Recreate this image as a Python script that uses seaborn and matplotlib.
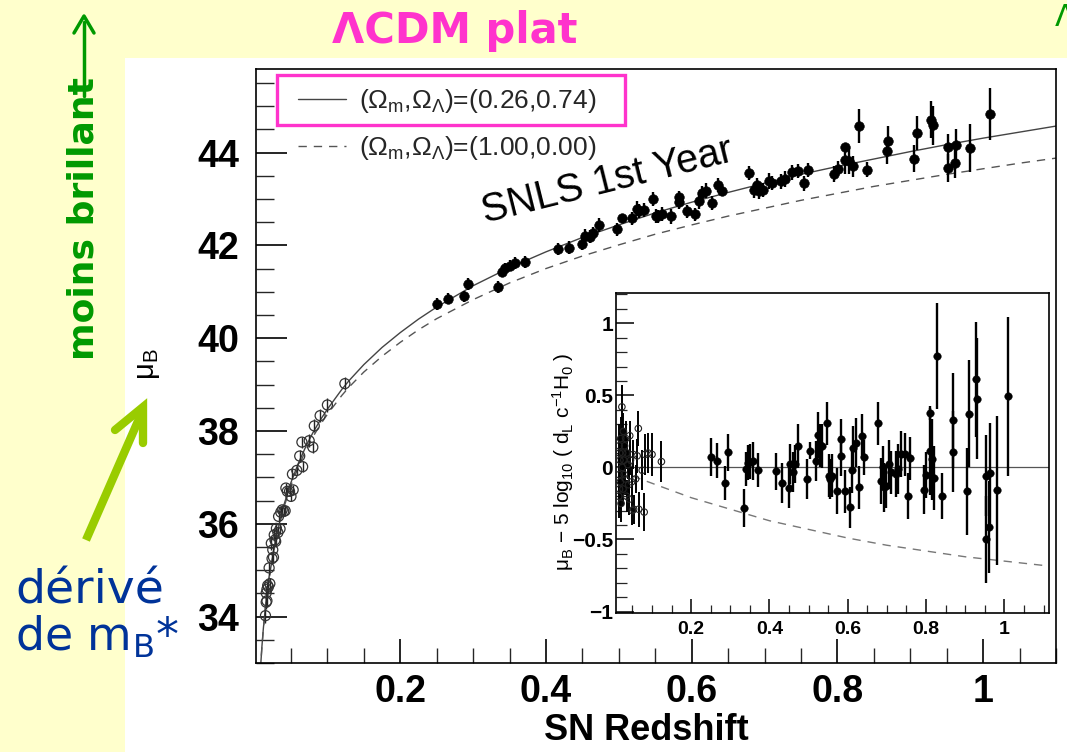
import matplotlib
matplotlib.use("Agg")
import matplotlib.pyplot as plt
import seaborn as sns
from matplotlib.patches import Rectangle
from matplotlib.ticker import MultipleLocator

# ---------------- data ----------------
# model curves (distance modulus)
curve_z = [0.008, 0.01, 0.012, 0.015, 0.02, 0.03, 0.04, 0.05, 0.06, 0.07, 0.08, 0.09,
           0.1, 0.12, 0.13, 0.15, 0.175, 0.2, 0.225, 0.25, 0.3, 0.35, 0.4, 0.45, 0.5,
           0.55, 0.6, 0.65, 0.7, 0.75, 0.8, 0.85, 0.9, 0.95, 1.0, 1.05, 1.1]
mu_lcdm = [32.84, 33.33, 33.73, 34.22, 34.85, 35.75, 36.39, 36.89, 37.30, 37.65, 37.96,
           38.23, 38.47, 38.90, 39.09, 39.43, 39.80, 40.12, 40.41, 40.67, 41.13, 41.52,
           41.86, 42.17, 42.44, 42.70, 42.93, 43.14, 43.34, 43.53, 43.70, 43.86, 44.02,
           44.17, 44.31, 44.44, 44.57]
mu_eds = [32.83, 33.32, 33.71, 34.20, 34.83, 35.71, 36.34, 36.83, 37.23, 37.57, 37.87,
          38.13, 38.36, 38.77, 38.95, 39.27, 39.61, 39.91, 40.18, 40.42, 40.83, 41.19,
          41.50, 41.77, 42.01, 42.24, 42.44, 42.63, 42.80, 42.97, 43.12, 43.27, 43.40,
          43.53, 43.65, 43.77, 43.88]

# residual of the (1,0) model in the inset
resid_z = [0.05, 0.07, 0.1, 0.15, 0.2, 0.25, 0.3, 0.4, 0.5, 0.6, 0.7, 0.8, 0.9, 1.0, 1.1]
resid_eds = [-0.06, -0.08, -0.11, -0.16, -0.21, -0.25, -0.29, -0.37, -0.43, -0.49,
             -0.54, -0.58, -0.62, -0.65, -0.68]

# nearby supernovae (open circles)
near_z = [0.015, 0.016, 0.016, 0.017, 0.017, 0.018, 0.019, 0.020, 0.021, 0.023, 0.024,
          0.025, 0.026, 0.027, 0.028, 0.029, 0.030, 0.032, 0.033, 0.035, 0.036, 0.038,
          0.040, 0.042, 0.043, 0.045, 0.048, 0.050, 0.052, 0.053, 0.058, 0.062, 0.065,
          0.066, 0.075, 0.080, 0.082, 0.090, 0.100, 0.124]
near_mu = [34.02, 34.51, 34.31, 34.59, 34.34, 34.67, 34.64, 35.05, 34.71, 35.58, 35.25,
           35.44, 35.28, 35.76, 35.65, 35.62, 35.90, 35.81, 36.16, 35.89, 36.25, 36.30,
           36.27, 36.28, 36.77, 36.70, 36.70, 36.59, 37.07, 36.73, 37.15, 37.46, 37.76,
           37.23, 37.79, 37.65, 38.11, 38.33, 38.56, 39.02]
near_res = [-0.20, 0.15, -0.05, 0.10, -0.15, 0.05, -0.10, 0.20, -0.25, 0.42, 0.00,
            0.10, -0.15, 0.25, 0.05, -0.05, 0.15, -0.08, 0.20, -0.20, 0.10, 0.02,
            -0.12, -0.22, 0.22, 0.05, -0.10, -0.30, 0.09, -0.29, -0.08, 0.08, 0.27,
            -0.29, -0.02, -0.31, 0.09, 0.10, 0.09, 0.04]
near_err = [0.15, 0.15, 0.14, 0.15, 0.14, 0.13, 0.14, 0.15, 0.13, 0.15, 0.12, 0.12,
            0.12, 0.13, 0.12, 0.11, 0.12, 0.11, 0.12, 0.11, 0.11, 0.10, 0.10, 0.11,
            0.10, 0.10, 0.10, 0.10, 0.10, 0.10, 0.10, 0.12, 0.12, 0.12, 0.14, 0.13,
            0.14, 0.14, 0.15, 0.14]

# SNLS first-year supernovae (filled circles)
snls_z = [0.250, 0.265, 0.287, 0.293, 0.334, 0.340, 0.344, 0.351, 0.358, 0.371,
          0.416, 0.432, 0.450, 0.453, 0.461, 0.465, 0.473, 0.497,
          0.504, 0.518, 0.525, 0.528, 0.534, 0.547, 0.551, 0.554, 0.559, 0.572, 0.582,
          0.583, 0.593,
          0.605, 0.610, 0.614, 0.620, 0.628, 0.636, 0.642,
          0.678, 0.685, 0.689, 0.693, 0.698, 0.706, 0.710, 0.722, 0.728, 0.737, 0.746,
          0.754, 0.759,
          0.795, 0.801, 0.810, 0.810, 0.816, 0.821, 0.829, 0.840,
          0.868, 0.870,
          0.905, 0.909, 0.928, 0.931,
          0.952, 0.952, 0.961, 0.963, 0.982, 1.010]
snls_mu = [40.74, 40.85, 40.90, 41.17, 41.11, 41.43, 41.51, 41.56, 41.62, 41.64,
           41.93, 41.95, 42.03, 42.21, 42.19, 42.27, 42.44, 42.35,
           42.58, 42.58, 42.79, 42.74, 42.76, 42.99, 42.64, 42.63, 42.68, 42.63, 43.04,
           42.93, 42.73,
           42.67, 42.95, 43.12, 43.18, 42.91, 43.30, 43.18,
           43.56, 43.19, 43.30, 43.17, 43.20, 43.38, 43.34, 43.38, 43.43, 43.57, 43.60,
           43.34, 43.62,
           43.53, 43.65, 44.11, 43.84, 43.81, 43.70, 44.57, 43.63,
           44.03, 44.25,
           43.87, 44.42, 44.71, 44.59,
           44.12, 43.67, 43.78, 44.16, 44.10, 44.83]
snls_res = [0.073, 0.046, -0.108, 0.105, -0.280, -0.010, 0.034, 0.039, 0.046, -0.018,
            -0.028, -0.110, -0.140, 0.023, -0.034, 0.023, 0.149, -0.080,
            0.117, 0.046, 0.225, 0.154, 0.149, 0.305, -0.057, -0.080, -0.057, -0.165,
            0.195, 0.080, -0.165,
            -0.278, -0.016, 0.138, 0.172, -0.138, 0.218, 0.069,
            0.305, -0.092, 0.000, -0.138, -0.131, 0.023, -0.034, -0.046, -0.011, 0.092,
            0.092, -0.200, 0.064,
            -0.156, -0.053, 0.378, 0.112, 0.057, -0.073, 0.773, -0.200,
            0.108, 0.328,
            -0.167, 0.372, 0.612, 0.477,
            -0.057, -0.500, -0.413, -0.041, -0.160, 0.493]
snls_err = [0.13, 0.12, 0.12, 0.13, 0.13, 0.12, 0.12, 0.12, 0.13, 0.12,
            0.13, 0.14, 0.14, 0.14, 0.14, 0.13, 0.15, 0.14,
            0.06, 0.14, 0.16, 0.15, 0.15, 0.15, 0.15, 0.14, 0.15, 0.16, 0.14, 0.14, 0.15,
            0.14, 0.16, 0.15, 0.17, 0.15, 0.15, 0.12,
            0.15, 0.16, 0.15, 0.17, 0.15, 0.17, 0.15, 0.16, 0.17, 0.16, 0.15, 0.16, 0.15,
            0.17, 0.16, 0.05, 0.30, 0.28, 0.22, 0.37, 0.16,
            0.28, 0.33,
            0.30, 0.37, 0.40, 0.42,
            0.28, 0.30, 0.32, 0.35, 0.52, 0.55]

main_xticks = [0.2, 0.4, 0.6, 0.8, 1.0]
main_xlabels = ["0.2", "0.4", "0.6", "0.8", "1"]
main_yticks = [34, 36, 38, 40, 42, 44]
main_ylabels = ["34", "36", "38", "40", "42", "44"]
inset_yticks = [-1, -0.5, 0, 0.5, 1]
inset_ylabels = ["\u22121", "\u22120.5", "0", "0.5", "1"]

legend_labels = [r"($\Omega_{\rm m}$,$\Omega_{\Lambda}$)=(0.26,0.74)",
                 r"($\Omega_{\rm m}$,$\Omega_{\Lambda}$)=(1.00,0.00)"]

# ---------------- styling ----------------
sns.set_theme(style="ticks")
plt.rcParams["font.family"] = ["Liberation Sans", "DejaVu Sans"]
plt.rcParams["mathtext.fontset"] = "custom"
plt.rcParams["mathtext.rm"] = "Liberation Sans"
plt.rcParams["mathtext.it"] = "Liberation Sans:italic"
plt.rcParams["mathtext.bf"] = "Liberation Sans:bold"

YELLOW = "#FFFFCC"
PINK = "#FF33CC"
GREEN = "#009900"
BLUE = "#003399"
LIME = "#99CC00"

W, H = 1067, 752


def fx(x):
    return x / W


def fy(y):
    return 1 - y / H


fig = plt.figure(figsize=(W / 100, H / 100), dpi=100)
fig.patch.set_facecolor(YELLOW)
fig.add_artist(Rectangle((fx(125), 0), 1 - fx(125), fy(58), transform=fig.transFigure,
                         facecolor="white", edgecolor="none", zorder=-1))

# ---------------- main axes ----------------
ax = fig.add_axes([fx(256), fy(663), fx(1056) - fx(256), fy(69) - fy(663)])
ax.set_facecolor("white")

sns.lineplot(x=curve_z, y=mu_lcdm, ax=ax, color="#444444", lw=1.0, estimator=None,
             sort=False, zorder=2)
sns.lineplot(x=curve_z, y=mu_eds, ax=ax, color="#555555", lw=1.0, estimator=None,
             sort=False, zorder=2)
l1, l2 = ax.lines[0], ax.lines[1]
l2.set_dashes([6, 5])

ax.errorbar(near_z, near_mu, yerr=near_err, fmt="none", ecolor="#222222",
            elinewidth=1.0, capsize=0, zorder=3)
sns.scatterplot(x=near_z, y=near_mu, ax=ax, marker="o", s=52, facecolor="none",
                edgecolor="#333333", linewidth=0.9, zorder=4, legend=False)
ax.errorbar(snls_z, snls_mu, yerr=snls_err, fmt="none", ecolor="black",
            elinewidth=1.7, capsize=0, zorder=3)
sns.scatterplot(x=snls_z, y=snls_mu, ax=ax, marker="o", s=48, color="black",
                edgecolor="black", linewidth=0.4, zorder=4, legend=False)

ax.set_xlim(0.002, 1.1)
ax.set_ylim(33.0, 45.8)
ax.set_xticks(main_xticks, labels=main_xlabels, fontsize=27, fontweight="bold")
ax.set_yticks(main_yticks, labels=main_ylabels, fontsize=27, fontweight="bold")
ax.xaxis.set_minor_locator(MultipleLocator(0.05))
ax.yaxis.set_minor_locator(MultipleLocator(0.5))
ax.tick_params(axis="x", which="major", direction="in", length=17, width=1.2, pad=8,
               colors="black", top=False, bottom=True)
ax.tick_params(axis="x", which="minor", direction="in", length=11, width=1.0,
               top=False, bottom=True)
ax.tick_params(axis="y", which="major", direction="in", length=22, width=1.2, pad=12,
               colors="black", right=False, left=True)
ax.tick_params(axis="y", which="minor", direction="in", length=13, width=1.0,
               right=False, left=True)
for sp in ax.spines.values():
    sp.set_visible(True)
    sp.set_color("black")
    sp.set_linewidth(1.2)
ax.set_xlabel("")
ax.set_ylabel("")

ax.legend(handles=[l1, l2], labels=legend_labels, loc="upper left",
          bbox_to_anchor=((298 - 256) / 800, (663 - 87) / 594), frameon=False,
          fontsize=19, handlelength=1.8, handletextpad=0.5, labelspacing=0.72,
          borderpad=0, borderaxespad=0)

ax.text(0.4845, 43.38, "SNLS 1st Year", rotation=14, rotation_mode="anchor",
        ha="center", va="center", fontsize=28.5, color="black", zorder=5)

fig.add_artist(Rectangle((fx(277), fy(125)), fx(625) - fx(277), fy(75) - fy(125),
                         transform=fig.transFigure, fill=False, edgecolor=PINK,
                         linewidth=2.4, zorder=6))

# ---------------- inset ----------------
axin = fig.add_axes([fx(616), fy(613), fx(1049) - fx(616), fy(293) - fy(613)])
axin.set_facecolor("white")
axin.set_zorder(3)
axin.axhline(0, color="#555555", lw=0.9, zorder=1)
sns.lineplot(x=resid_z, y=resid_eds, ax=axin, color="#777777", lw=1.0, estimator=None,
             sort=False, zorder=1)
axin.lines[-1].set_dashes([6, 5])

axin.errorbar(near_z, near_res, yerr=near_err, fmt="none", ecolor="black",
              elinewidth=1.4, capsize=0, zorder=2)
sns.scatterplot(x=near_z, y=near_res, ax=axin, marker="o", s=22, facecolor="none",
                edgecolor="#222222", linewidth=0.8, zorder=3, legend=False)
axin.errorbar(snls_z, snls_res, yerr=snls_err, fmt="none", ecolor="black",
              elinewidth=1.7, capsize=0, zorder=2)
sns.scatterplot(x=snls_z, y=snls_res, ax=axin, marker="o", s=30, color="black",
                edgecolor="black", linewidth=0.3, zorder=3, legend=False)

axin.set_xlim(0.008, 1.114)
axin.set_ylim(-1.01, 1.21)
axin.set_xticks(main_xticks, labels=main_xlabels, fontsize=14, fontweight="bold")
axin.set_yticks(inset_yticks, labels=inset_ylabels, fontsize=15, fontweight="bold")
axin.xaxis.set_minor_locator(MultipleLocator(0.05))
axin.yaxis.set_minor_locator(MultipleLocator(0.1))
axin.tick_params(axis="x", which="major", direction="in", length=10, width=1.1, pad=6,
                 top=False, bottom=True, colors="black")
axin.tick_params(axis="x", which="minor", direction="in", length=6, width=0.9,
                 top=False, bottom=True)
axin.tick_params(axis="y", which="major", direction="in", length=13, width=1.1, pad=2,
                 right=False, left=True, colors="black")
axin.tick_params(axis="y", which="minor", direction="in", length=8, width=0.9,
                 right=False, left=True)
for sp in axin.spines.values():
    sp.set_visible(True)
    sp.set_color("black")
    sp.set_linewidth(1.2)
axin.set_xlabel("")
axin.set_ylabel("")

fig.text(fx(563), fy(462),
         "$\\mathrm{\\mu_B}$ \u2212 5 log$_{10}$ ( d$_{\\rm L}$ c$^{-1}$H$_{0}$ )",
         rotation=90, ha="center", va="center", fontsize=15, color="black")

# ---------------- texts around ----------------
fig.text(fx(646), fy(731), "SN Redshift", ha="center", va="center", fontsize=26,
         fontweight="bold", color="black")
fig.text(fx(148), fy(364), r"$\mathrm{\mu_B}$", rotation=90, ha="center", va="center",
         fontsize=21, color="black")

fig.text(fx(455), fy(31), "\u039bCDM plat", ha="center", va="center", fontsize=30,
         fontweight="bold", color=PINK, family=["DejaVu Sans"])
fig.text(fx(1055), fy(26), "\u039b", ha="left", va="baseline", fontsize=22,
         color=GREEN, family=["DejaVu Sans"])

fig.text(fx(84), fy(360), "moins brillant", rotation=90, ha="center", va="bottom",
         fontsize=26, fontweight="bold", color=GREEN, family=["DejaVu Sans"])
fig.add_artist(plt.Line2D([fx(84), fx(84)], [fy(96), fy(22)], color=GREEN, lw=2.5,
                          transform=fig.transFigure))
fig.add_artist(plt.Line2D([fx(74), fx(84), fx(94)], [fy(33), fy(16), fy(33)],
                          color=GREEN, lw=2.5, transform=fig.transFigure))

fig.text(fx(15), fy(603), "d\u00e9riv\u00e9", ha="left", va="baseline", fontsize=34,
         color=BLUE, family=["DejaVu Sans"])
fig.text(fx(15), fy(650), "de m$_\\mathregular{B}$*", ha="left", va="baseline",
         fontsize=33, color=BLUE, family=["DejaVu Sans"])

fig.add_artist(plt.Line2D([fx(86), fx(142)], [fy(540), fy(412)], color=LIME, lw=6,
                          solid_capstyle="butt", transform=fig.transFigure))
fig.add_artist(plt.Line2D([fx(115), fx(143), fx(143)], [fy(430), fy(407), fy(443)],
                          color=LIME, lw=6, solid_capstyle="round",
                          solid_joinstyle="miter", transform=fig.transFigure))

fig.savefig("out.png", dpi=100, facecolor=YELLOW)
